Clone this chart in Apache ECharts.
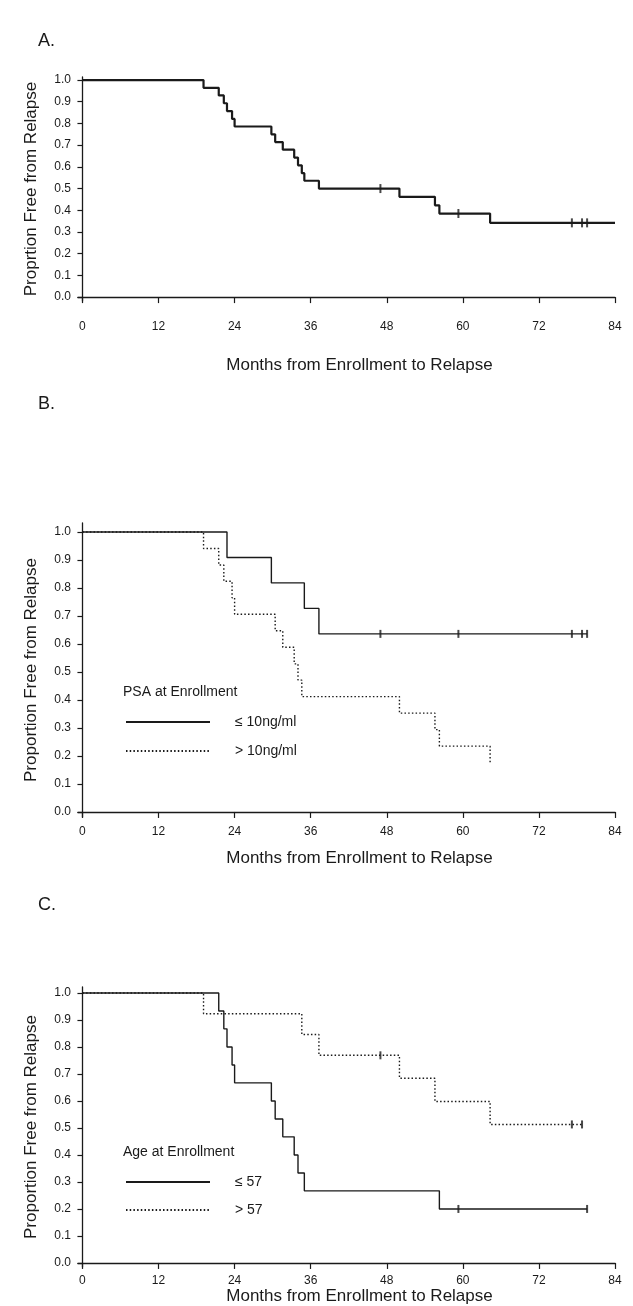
<!doctype html>
<html lang="en">
<head>
<meta charset="utf-8">
<script src="https://cdn.jsdelivr.net/npm/echarts@6/dist/echarts.min.js"></script>
<style>
  html, body { margin: 0; padding: 0; background: #fff; }
  #chart { width: 633px; height: 1306px; }
</style>
</head>
<body>
<div id="chart"></div>
<script>
// ticks
var monthTicks = [0, 12, 24, 36, 48, 60, 72, 84];
var propTicks = [0, 0.1, 0.2, 0.3, 0.4, 0.5, 0.6, 0.7, 0.8, 0.9, 1.0];

// A. all patients
var allTimes  = [0, 19.1, 21.5, 22.3, 22.8, 23.6, 24.0, 29.8, 30.4, 31.6, 33.4, 34.0, 34.6, 35.0, 37.3, 50.0, 55.6, 56.3, 64.3, 84];
var allSurv   = [1, 0.964, 0.929, 0.893, 0.857, 0.821, 0.786, 0.750, 0.714, 0.679, 0.643, 0.607, 0.571, 0.536, 0.500, 0.462, 0.423, 0.385, 0.342, 0.342];
var allCensor = [47.0, 59.3, 77.2, 78.8, 79.6];

// B. PSA at enrollment
var psaLowTimes   = [0, 22.8, 29.8, 35.0, 37.3, 79.6];
var psaLowSurv    = [1, 0.909, 0.818, 0.727, 0.636, 0.636];
var psaLowCensor  = [47.0, 59.3, 77.2, 78.8, 79.6];
var psaHighTimes  = [0, 19.1, 21.5, 22.3, 23.6, 24.0, 30.4, 31.6, 33.4, 34.0, 34.6, 50.0, 55.6, 56.3, 64.3];
var psaHighSurv   = [1, 0.941, 0.882, 0.824, 0.765, 0.706, 0.647, 0.588, 0.529, 0.471, 0.412, 0.353, 0.294, 0.235, 0.176];
var psaHighCensor = [];

// C. age at enrollment
var ageLowTimes   = [0, 21.5, 22.3, 22.8, 23.6, 24.0, 29.8, 30.4, 31.6, 33.4, 34.0, 35.0, 56.3, 79.6];
var ageLowSurv    = [1, 0.933, 0.867, 0.800, 0.733, 0.667, 0.600, 0.533, 0.467, 0.400, 0.333, 0.267, 0.200, 0.200];
var ageLowCensor  = [59.3, 79.6];
var ageHighTimes  = [0, 19.1, 34.6, 37.3, 50.0, 55.6, 64.3, 78.8];
var ageHighSurv   = [1, 0.923, 0.846, 0.769, 0.684, 0.598, 0.513, 0.513];
var ageHighCensor = [47.0, 77.2, 78.8];

var FONT = '"Liberation Sans", Arial, sans-serif';
var NARROW = '"Liberation Sans Narrow", "Liberation Sans", Arial, sans-serif';
var INK = '#1a1a1a';

// survival value at time t (step function)
function survAt(times, surv, t) {
  var v = surv[0];
  for (var i = 0; i < times.length; i++) { if (times[i] <= t) v = surv[i]; }
  return v;
}

function curve(name, idx, times, surv, width, type) {
  return {
    name: name, type: 'line', step: 'end', xAxisIndex: idx, yAxisIndex: idx,
    symbol: 'none', silent: true,
    itemStyle: { color: INK },
    lineStyle: { color: INK, width: width, type: type },
    data: times.map(function (t, i) { return [t, surv[i]]; })
  };
}

function censors(idx, times, surv, marks, h) {
  return {
    type: 'scatter', xAxisIndex: idx, yAxisIndex: idx, silent: true,
    symbol: 'rect', symbolSize: [2, h],
    itemStyle: { color: INK },
    data: marks.map(function (t) { return [t, survAt(times, surv, t)]; })
  };
}

// plot boxes
var panels = [
  { top: 77,  height: 224, ymin: -0.018, ymax: 1.014, margin: 20, gap: 56, yname: 'Proprtion Free from Relapse' },
  { top: 523, height: 294, ymin: -0.018, ymax: 1.032, margin: 9,  gap: 33, yname: 'Proportion Free from Relapse' },
  { top: 987, height: 281, ymin: -0.015, ymax: 1.022, margin: 8,  gap: 21, yname: 'Proportion Free from Relapse' }
];

var grids = [], xAxes = [], yAxes = [];
panels.forEach(function (p, i) {
  grids.push({ left: 78, top: p.top, width: 537, height: p.height });
  xAxes.push({
    type: 'value', gridIndex: i, min: -0.7, max: 84,
    name: 'Months from Enrollment to Relapse', nameLocation: 'middle', nameGap: p.gap,
    nameTextStyle: { fontFamily: FONT, fontSize: 17, color: INK, padding: [0, 0, 0, 26] },
    axisLine: { lineStyle: { color: INK, width: 1.3 } },
    axisTick: { customValues: monthTicks, length: 6, lineStyle: { color: INK, width: 1.2 } },
    axisLabel: { customValues: monthTicks, margin: p.margin, fontFamily: NARROW, fontSize: 12, color: INK },
    splitLine: { show: false }
  });
  yAxes.push({
    type: 'value', gridIndex: i, min: p.ymin, max: p.ymax,
    name: p.yname, nameLocation: 'middle', nameGap: 38, nameRotate: 90,
    nameTextStyle: { fontFamily: FONT, fontSize: 17, color: INK },
    axisLine: { lineStyle: { color: INK, width: 1.3 } },
    axisTick: { customValues: propTicks, length: 5, lineStyle: { color: INK, width: 1.2 } },
    axisLabel: { customValues: propTicks, margin: 7, fontFamily: NARROW, fontSize: 12, color: INK,
      formatter: function (v) { return v.toFixed(1); } },
    splitLine: { show: false }
  });
});

var dotted = [1.5, 2.2];
var letterStyle = { fontFamily: FONT, fontSize: 18, fontWeight: 'normal', color: INK };
var legendTitleStyle = { fontFamily: NARROW, fontSize: 14, fontWeight: 'normal', color: INK };

var option = {
  backgroundColor: '#fff',
  animation: false,
  title: [
    { text: 'A.', left: 33, top: 27, textStyle: letterStyle },
    { text: 'B.', left: 33, top: 390, textStyle: letterStyle },
    { text: 'C.', left: 33, top: 891, textStyle: letterStyle },
    { text: 'PSA at Enrollment', left: 118, top: 680, textStyle: legendTitleStyle },
    { text: 'Age at Enrollment', left: 118, top: 1140, textStyle: legendTitleStyle }
  ],
  legend: [
    { data: ['≤ 10ng/ml', '> 10ng/ml'], orient: 'vertical', left: 120, top: 710, itemWidth: 84, itemHeight: 8,
      itemGap: 15, selectedMode: false, itemStyle: { opacity: 0 },
      textStyle: { fontFamily: NARROW, fontSize: 14, color: INK, padding: [0, 0, 0, 20] } },
    { data: ['≤ 57', '> 57'], orient: 'vertical', left: 120, top: 1170, itemWidth: 84, itemHeight: 8,
      itemGap: 14, selectedMode: false, itemStyle: { opacity: 0 },
      textStyle: { fontFamily: NARROW, fontSize: 14, color: INK, padding: [0, 0, 0, 20] } }
  ],
  grid: grids,
  xAxis: xAxes,
  yAxis: yAxes,
  series: [
    curve('All', 0, allTimes, allSurv, 2.2, 'solid'),
    censors(0, allTimes, allSurv, allCensor, 9),

    curve('≤ 10ng/ml', 1, psaLowTimes, psaLowSurv, 1.4, 'solid'),
    censors(1, psaLowTimes, psaLowSurv, psaLowCensor, 8),
    curve('> 10ng/ml', 1, psaHighTimes, psaHighSurv, 1.4, dotted),
    censors(1, psaHighTimes, psaHighSurv, psaHighCensor, 8),

    curve('≤ 57', 2, ageLowTimes, ageLowSurv, 1.4, 'solid'),
    censors(2, ageLowTimes, ageLowSurv, ageLowCensor, 8),
    curve('> 57', 2, ageHighTimes, ageHighSurv, 1.4, dotted),
    censors(2, ageHighTimes, ageHighSurv, ageHighCensor, 8)
  ]
};

var chart = echarts.init(document.getElementById('chart'), null, { renderer: 'canvas' });
chart.setOption(option);
</script>
</body>
</html>
